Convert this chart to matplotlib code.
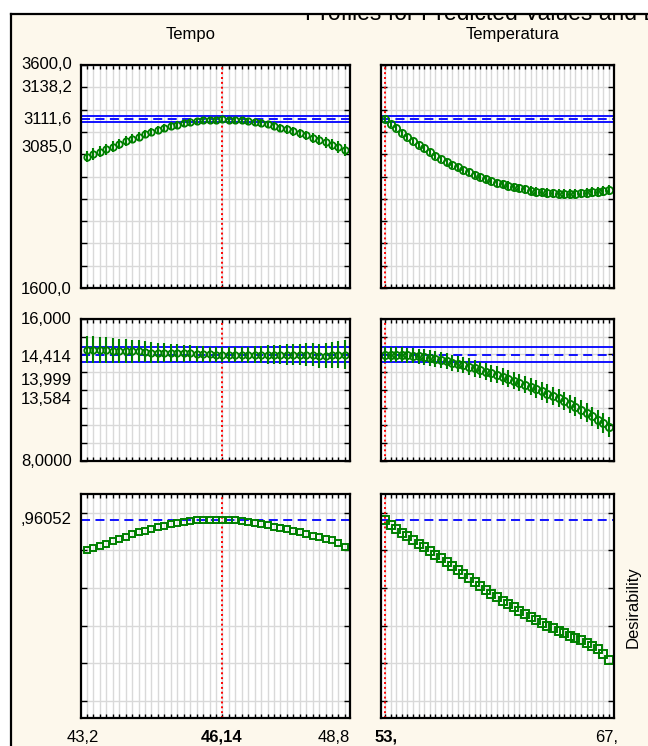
import matplotlib
matplotlib.use("Agg")
import matplotlib.pyplot as plt
from matplotlib.patches import Rectangle
from matplotlib.lines import Line2D

plt.rcParams['font.family'] = ['Liberation Sans', 'DejaVu Sans']

W, H, DPI = 648, 746, 100

# ---------------- data ----------------
tempo = [43.20, 43.34, 43.48, 43.62, 43.76, 43.90, 44.04, 44.18, 44.32, 44.46,
         44.60, 44.74, 44.88, 45.02, 45.16, 45.30, 45.44, 45.58, 45.72, 45.86,
         46.00, 46.14, 46.28, 46.42, 46.56, 46.70, 46.84, 46.98, 47.12, 47.26,
         47.40, 47.54, 47.68, 47.82, 47.96, 48.10, 48.24, 48.38, 48.52, 48.66, 48.80]
temperatura = [53.00, 53.35, 53.70, 54.05, 54.40, 54.75, 55.10, 55.45, 55.80, 56.15,
               56.50, 56.85, 57.20, 57.55, 57.90, 58.25, 58.60, 58.95, 59.30, 59.65,
               60.00, 60.35, 60.70, 61.05, 61.40, 61.75, 62.10, 62.45, 62.80, 63.15,
               63.50, 63.85, 64.20, 64.55, 64.90, 65.25, 65.60, 65.95, 66.30, 66.65, 67.00]
factor_names = ['Tempo', 'Temperatura']
tempo_current = 46.14
temperatura_current = 53.0
tempo_tick_labels = ['43,2', '46,14', '48,8']
temperatura_tick_labels = ['53,', '67,']

# response 1
r1_limits = (1600.0, 3600.0)
r1_pred, r1_low, r1_high = 3111.6, 3085.0, 3138.2
r1_labels = ['3600,0', '3138,2', '3111,6', '3085,0', '1600,0']
r1_tempo = [2778, 2802, 2823, 2844, 2868, 2891, 2915, 2939, 2957, 2981,
            2999, 3017, 3035, 3050, 3065, 3077, 3089, 3098, 3104, 3107,
            3110, 3111.6, 3110, 3107, 3104, 3098, 3089, 3080, 3068, 3053,
            3038, 3023, 3005, 2987, 2969, 2948, 2927, 2906, 2885, 2862, 2838]
r1_tempo_err = [52, 51, 49, 48, 47, 45, 44, 43, 41, 40, 39, 37, 36, 35, 33, 32, 31, 30, 29, 28,
                27, 26.6, 27, 28, 29, 30, 31, 33, 34, 35, 37, 38, 40, 41, 42, 44, 46, 48, 51, 54, 57]
r1_temp = [3111.6, 3071, 3032, 2993, 2953, 2916, 2884, 2853, 2820, 2788,
           2757, 2730, 2704, 2681, 2658, 2637, 2617, 2598, 2579, 2562,
           2546, 2531, 2519, 2507, 2495, 2484, 2474, 2465, 2458, 2452,
           2448, 2446, 2445, 2445, 2446, 2448, 2452, 2458, 2465, 2472, 2479]
r1_temp_err = [26.6, 27, 27, 28, 28, 29, 29, 30, 30, 31, 31, 32, 32, 33, 33, 34, 34, 35, 35, 36,
               36, 37, 37, 38, 38, 39, 39, 40, 40, 41, 41, 42, 42, 43, 43, 44, 44, 45, 45, 46, 46]

# response 2
r2_limits = (8.0, 16.0)
r2_pred, r2_low, r2_high = 13.999, 13.584, 14.414
r2_labels = ['16,000', '14,414', '13,999', '13,584', '8,0000']
r2_tempo = [14.281, 14.281, 14.262, 14.262, 14.224, 14.206, 14.206, 14.187, 14.187, 14.168,
            14.112, 14.093, 14.093, 14.093, 14.074, 14.074, 14.074, 14.055, 14.018, 14.018,
            13.999, 13.999, 13.999, 13.999, 13.999, 13.999, 13.999, 13.999, 13.999, 13.999,
            13.999, 13.999, 13.999, 13.999, 13.999, 13.999, 13.924, 13.924, 13.980, 13.999, 13.999]
r2_tempo_err = [0.78, 0.76, 0.74, 0.72, 0.70, 0.68, 0.66, 0.64, 0.62, 0.60,
                0.58, 0.56, 0.54, 0.52, 0.50, 0.48, 0.46, 0.45, 0.44, 0.43,
                0.42, 0.415, 0.42, 0.43, 0.44, 0.45, 0.47, 0.49, 0.51, 0.53,
                0.55, 0.57, 0.59, 0.61, 0.63, 0.65, 0.68, 0.71, 0.74, 0.77, 0.81]
r2_temp = [13.999, 13.999, 13.999, 13.980, 13.961, 13.943, 13.905, 13.868, 13.811, 13.755,
           13.699, 13.623, 13.548, 13.473, 13.398, 13.323, 13.229, 13.135, 13.041, 12.947,
           12.854, 12.760, 12.647, 12.534, 12.422, 12.309, 12.196, 12.065, 11.933, 11.802,
           11.670, 11.539, 11.389, 11.220, 11.069, 10.900, 10.713, 10.525, 10.337, 10.130, 9.905]
r2_temp_err = [0.415, 0.42, 0.42, 0.42, 0.43, 0.43, 0.43, 0.44, 0.44, 0.44,
               0.45, 0.45, 0.45, 0.46, 0.46, 0.46, 0.47, 0.47, 0.47, 0.48,
               0.48, 0.48, 0.49, 0.49, 0.49, 0.50, 0.50, 0.50, 0.51, 0.51,
               0.51, 0.52, 0.52, 0.52, 0.53, 0.53, 0.53, 0.54, 0.54, 0.55, 0.55]

# desirability
d_limits = (-0.09, 1.10)
d_current = 0.96052
d_labels = [',96052']
d_tempo = [0.803, 0.814, 0.825, 0.836, 0.849, 0.862, 0.874, 0.885, 0.896, 0.906,
           0.915, 0.924, 0.932, 0.939, 0.946, 0.952, 0.958, 0.9605, 0.9605, 0.9605,
           0.9605, 0.9605, 0.9605, 0.9605, 0.958, 0.951, 0.946, 0.941, 0.934, 0.927,
           0.921, 0.914, 0.906, 0.898, 0.889, 0.879, 0.870, 0.863, 0.853, 0.842, 0.821]
d_temp = [0.9605, 0.9362, 0.9149, 0.8954, 0.8759, 0.8564, 0.8369, 0.8174, 0.7979, 0.7784,
          0.7589, 0.7376, 0.7163, 0.6950, 0.6738, 0.6525, 0.6312, 0.6099, 0.5904, 0.5709,
          0.5514, 0.5337, 0.5160, 0.4982, 0.4805, 0.4628, 0.4468, 0.4309, 0.4149, 0.4007,
          0.3865, 0.3723, 0.3599, 0.3475, 0.3333, 0.3245, 0.3103, 0.2943, 0.2748, 0.2500, 0.2181]

# ---------------- styling ----------------
CREAM = '#fdf8ec'
GREEN = '#008000'
BLUE = '#0000ff'
GRID = '#d9d9d9'
FS = 12

fig = plt.figure(figsize=(W / DPI, H / DPI), dpi=DPI)
fig.patch.set_facecolor('white')


def fx(x):
    return x / W


def fy(y):
    return 1 - y / H


# cream background frame
fig.add_artist(Rectangle((fx(10.5), -0.2), 1.2, fy(13.5) + 0.2, transform=fig.transFigure,
                         facecolor=CREAM, edgecolor='none', zorder=-10))
# title, partly hidden behind the frame edge as in the original
fig.text(fx(305), fy(20), 'Profiles for Predicted Values and Desirability', fontsize=16.5,
         va='baseline', ha='left', zorder=-5)
fig.add_artist(Rectangle((0, fy(13.5)), 1, 1, transform=fig.transFigure,
                         facecolor='white', edgecolor='none', zorder=-4))
fig.add_artist(Rectangle((0, 0), fx(10.5), 1, transform=fig.transFigure,
                         facecolor='white', edgecolor='none', zorder=-4))
fig.add_artist(Line2D([fx(10.5), 1], [fy(13.5), fy(13.5)], transform=fig.transFigure,
                      color='black', lw=1.6, zorder=-3))
fig.add_artist(Line2D([fx(10.5), fx(10.5)], [0, fy(13.5)], transform=fig.transFigure,
                      color='black', lw=1.6, zorder=-3))

cols = [(81, 350), (381, 614)]
rows = [(65, 288), (319, 461), (494, 718)]
xlims = [(43.07, 48.91), (52.75, 67.31)]
xgrids = [tempo, temperatura]
currents = [tempo_current, temperatura_current]
ylims = [r1_limits, r2_limits, d_limits]
yticks = [[1600 + 200 * i for i in range(11)], [8 + i for i in range(9)],
          [0.0, 0.2, 0.4, 0.6, 0.8, 1.0]]
msizes = [4.6, 5.2]


def make_ax(c, r):
    x0, x1 = cols[c]
    y0, y1 = rows[r]
    ax = fig.add_axes([fx(x0), fy(y1), (x1 - x0) / W, (y1 - y0) / H])
    ax.set_facecolor('white')
    ax.set_xlim(*xlims[c])
    ax.set_ylim(*ylims[r])
    ax.set_xticks(xgrids[c])
    ax.set_yticks(yticks[r])
    ax.tick_params(axis='x', direction='in', top=True, bottom=True, length=3, width=1,
                   labelbottom=False, colors='black')
    ax.tick_params(axis='y', direction='in', left=True, right=True, length=4, width=1,
                   labelleft=False)
    ax.grid(True, color=GRID, lw=1)
    ax.set_axisbelow(True)
    for s in ax.spines.values():
        s.set_linewidth(1.6)
        s.set_color('black')
        s.set_zorder(5)
    ax.axvline(currents[c], color='red', ls=(0, (1, 1.5)), lw=1.4, zorder=2)
    return ax


resp_data = [
    [(r1_tempo, r1_tempo_err), (r1_temp, r1_temp_err)],
    [(r2_tempo, r2_tempo_err), (r2_temp, r2_temp_err)],
]
bands = [(r1_pred, r1_low, r1_high), (r2_pred, r2_low, r2_high)]

for r in range(2):
    for c in range(2):
        ax = make_ax(c, r)
        pred, lo, hi = bands[r]
        ax.axhline(hi, color=BLUE, lw=1.3, zorder=2)
        ax.axhline(lo, color=BLUE, lw=1.3, zorder=2)
        ax.axhline(pred, color=BLUE, lw=1.3, ls=(0, (5, 3)), zorder=2)
        yv, ye = resp_data[r][c]
        ax.errorbar(xgrids[c], yv, yerr=ye, fmt='o', ms=msizes[c], mfc='none', mec=GREEN,
                    mew=1.3, ecolor=GREEN, elinewidth=1.5, capsize=0, zorder=3)

for c, dv in enumerate([d_tempo, d_temp]):
    ax = make_ax(c, 2)
    ax.axhline(d_current, color=BLUE, lw=1.3, ls=(0, (5, 3)), zorder=2)
    ax.plot(xgrids[c], dv, 's', ms=[4.8, 5.2][c], mfc='none', mec=GREEN, mew=1.4, zorder=3)

# y labels (placed like the original, offset to avoid overlap)
ylab_pos = [[69, 91.5, 123.5, 151.5, 293.5],
            [323.5, 362.5, 385.5, 404.5, 466.5],
            [524.5]]
for labels, ys in zip([r1_labels, r2_labels, d_labels], ylab_pos):
    for t, yy in zip(labels, ys):
        fig.text(fx(72), fy(yy), t, ha='right', va='baseline', fontsize=FS)

# x labels
fig.text(fx(82.5), fy(741.5), tempo_tick_labels[0], ha='center', va='baseline', fontsize=FS)
fig.text(fx(221.5), fy(741.5), tempo_tick_labels[1], ha='center', va='baseline', fontsize=FS,
         fontweight='bold')
fig.text(fx(350), fy(741.5), tempo_tick_labels[2], ha='right', va='baseline', fontsize=FS)
fig.text(fx(375), fy(741.5), temperatura_tick_labels[0], ha='left', va='baseline', fontsize=FS,
         fontweight='bold')
fig.text(fx(618), fy(741.5), temperatura_tick_labels[1], ha='right', va='baseline', fontsize=FS)

# column titles
fig.text(fx(191), fy(39.5), factor_names[0], ha='center', va='baseline', fontsize=FS)
fig.text(fx(513), fy(39.5), factor_names[1], ha='center', va='baseline', fontsize=FS)
fig.text(fx(633), fy(607), 'Desirability', ha='center', va='center', rotation=90, fontsize=FS)

fig.savefig('out.png', dpi=DPI, facecolor=fig.get_facecolor())
